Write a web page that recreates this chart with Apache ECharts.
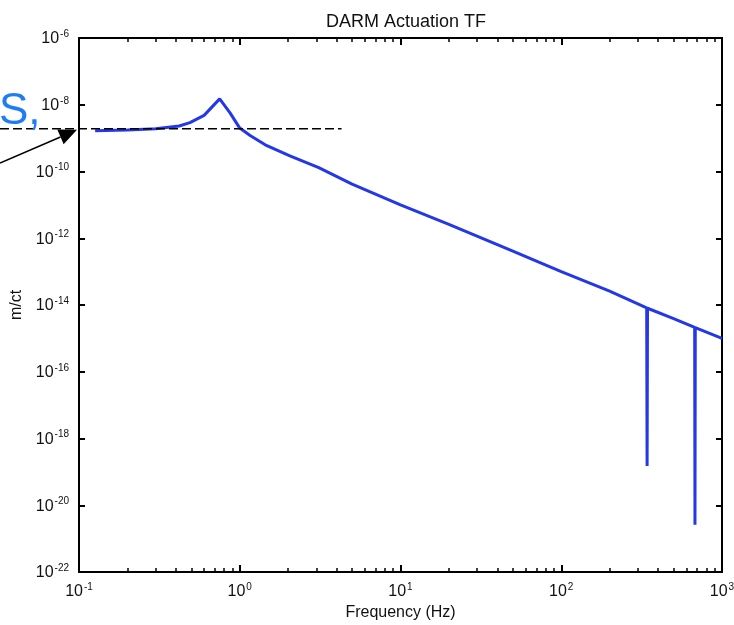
<!DOCTYPE html>
<html>
<head>
<meta charset="utf-8">
<script src="https://cdn.jsdelivr.net/npm/echarts@6/dist/echarts.min.js"></script>
<style>
  html, body { margin: 0; padding: 0; background: #fff; }
  #chart { width: 734px; height: 625px; }
</style>
</head>
<body>
<div id="chart"></div>
<script>
// frequency points (Hz) and actuation magnitude (m/ct)
const freqHz = [0.126, 0.2, 0.3, 0.42, 0.49, 0.6, 0.75, 0.87, 1.0, 1.16, 1.44, 2.05, 3.1, 5, 10, 20, 50, 100, 200, 340, 342, 344, 500, 676, 679, 682, 1000];
const magnitude = [1.66e-9, 1.75e-9, 1.9e-9, 2.3e-9, 2.9e-9, 4.8e-9, 1.5e-8, 5.7e-9, 2.0e-9, 1.2e-9, 6.3e-10, 2.95e-10, 1.3e-10, 4.2e-11, 1.0e-11, 2.6e-12, 4.1e-13, 1.0e-13, 2.6e-14, 8.2e-15, 1.5e-19, 8.0e-15, 3.9e-15, 2.15e-15, 2.6e-21, 2.1e-15, 1.0e-15];

// y axis is drawn in decades (exponents)
const yExpMin = -22;
const yExpMax = -6;
const xMin = 0.1;
const xMax = 1000;

// minor ticks at 2..9 of every decade, as log10 positions
const minorMultipliers = [2, 3, 4, 5, 6, 7, 8, 9];
const minorDecades = [-1, 0, 1, 2];

// dashed reference level and the end of the dashed line
const refLevel = 1.9e-9;
const refLineEndHz = 4.3;

const FONT = "Liberation Sans";
const lineBlue = "#2438e8";

const minorTickPos = [];
minorDecades.forEach((d) => {
  minorMultipliers.forEach((m) => minorTickPos.push(d + Math.log10(m)));
});

const chart = echarts.init(document.getElementById("chart"));

const supRich = {
  b: { fontSize: 16, fontFamily: FONT, color: "#111", verticalAlign: "bottom", padding: [2, 0, 0, 0] },
  s: { fontSize: 10, fontFamily: FONT, color: "#111", verticalAlign: "top", padding: [0, 0, 0, 1] },
};

const frameLine = { onZero: false, lineStyle: { color: "#000", width: 2 } };
const noLine = { show: false, onZero: false };

chart.setOption({
  animation: false,
  backgroundColor: "#fff",
  title: {
    text: "DARM Actuation TF",
    left: 321,
    top: 8,
    textStyle: { fontSize: 18, fontWeight: "normal", fontFamily: FONT, color: "#111" },
  },
  grid: { left: 79, right: 12, top: 38, bottom: 53, outerBoundsMode: "none" },
  xAxis: [
    {
      type: "log",
      logBase: 10,
      min: xMin,
      max: xMax,
      position: "bottom",
      axisLine: frameLine,
      axisTick: { inside: true, length: 7, lineStyle: { color: "#000", width: 2 } },
      axisLabel: {
        margin: 10,
        formatter: (v) => "{b|10}{s|" + Math.round(Math.log10(v)) + "}",
        rich: supRich,
      },
      splitLine: { show: false },
      name: "Frequency (Hz)",
      nameLocation: "middle",
      nameGap: 28,
      nameTextStyle: { fontSize: 16, fontFamily: FONT, color: "#111" },
    },
    {
      type: "log",
      logBase: 10,
      min: xMin,
      max: xMax,
      position: "top",
      axisLine: frameLine,
      axisTick: { inside: true, length: 7, lineStyle: { color: "#000", width: 2 } },
      axisLabel: { show: false },
      splitLine: { show: false },
    },
    {
      type: "value",
      min: -1,
      max: 3,
      position: "bottom",
      axisLine: noLine,
      axisTick: { inside: true, length: 4, customValues: minorTickPos, lineStyle: { color: "#000", width: 1.5 } },
      axisLabel: { show: false },
      splitLine: { show: false },
    },
    {
      type: "value",
      min: -1,
      max: 3,
      position: "top",
      axisLine: noLine,
      axisTick: { inside: true, length: 4, customValues: minorTickPos, lineStyle: { color: "#000", width: 1.5 } },
      axisLabel: { show: false },
      splitLine: { show: false },
    },
  ],
  yAxis: [
    {
      type: "value",
      min: yExpMin,
      max: yExpMax,
      interval: 2,
      position: "left",
      axisLine: frameLine,
      axisTick: { inside: true, length: 6, lineStyle: { color: "#000", width: 2 } },
      axisLabel: {
        margin: 10,
        formatter: (v) => "{b|10}{s|" + v + "}",
        rich: supRich,
      },
      splitLine: { show: false },
      name: "m/ct",
      nameLocation: "middle",
      nameGap: 46,
      nameRotate: 90,
      nameTextStyle: { fontSize: 16, fontFamily: FONT, color: "#111" },
    },
    {
      type: "value",
      min: yExpMin,
      max: yExpMax,
      interval: 2,
      position: "right",
      axisLine: frameLine,
      axisTick: { inside: true, length: 6, lineStyle: { color: "#000", width: 2 } },
      axisLabel: { show: false },
      splitLine: { show: false },
    },
  ],
  series: [
    {
      type: "line",
      xAxisIndex: 0,
      yAxisIndex: 0,
      data: freqHz.map((f, i) => [f, Math.log10(magnitude[i])]),
      showSymbol: false,
      lineStyle: { color: lineBlue, width: 3, join: "bevel" },
    },
  ],
});

// annotation: dashed level line, arrow and the cut-off slide text
const refY = Math.log10(refLevel);
const endPt = chart.convertToPixel({ xAxisIndex: 0, yAxisIndex: 0 }, [refLineEndHz, refY]);
const tipPt = chart.convertToPixel({ xAxisIndex: 0, yAxisIndex: 0 }, [xMin, refY]);
const tip = [tipPt[0] - 2, tipPt[1] + 1];
const tail = [0, 163];
const dx = tip[0] - tail[0];
const dy = tip[1] - tail[1];
const len = Math.sqrt(dx * dx + dy * dy);
const ux = dx / len;
const uy = dy / len;
const headLen = 18;
const headHalf = 8;
const base = [tip[0] - ux * headLen, tip[1] - uy * headLen];

chart.setOption({
  graphic: [
    {
      type: "line",
      shape: { x1: 0, y1: endPt[1], x2: endPt[0], y2: endPt[1] },
      style: { stroke: "#000", lineWidth: 1.5, lineDash: [9, 4] },
      z: 10,
    },
    {
      type: "line",
      shape: { x1: tail[0], y1: tail[1], x2: base[0], y2: base[1] },
      style: { stroke: "#000", lineWidth: 1.5 },
      z: 10,
    },
    {
      type: "polygon",
      shape: {
        points: [
          tip,
          [base[0] - uy * headHalf, base[1] + ux * headHalf],
          [base[0] + uy * headHalf, base[1] - ux * headHalf],
        ],
      },
      style: { fill: "#000" },
      z: 10,
    },
    {
      type: "text",
      x: -1,
      y: 112,
      style: {
        text: "S,",
        font: "44px " + FONT,
        fill: "#1f7df3",
        verticalAlign: "middle",
      },
      z: 10,
    },
  ],
});
</script>
</body>
</html>
